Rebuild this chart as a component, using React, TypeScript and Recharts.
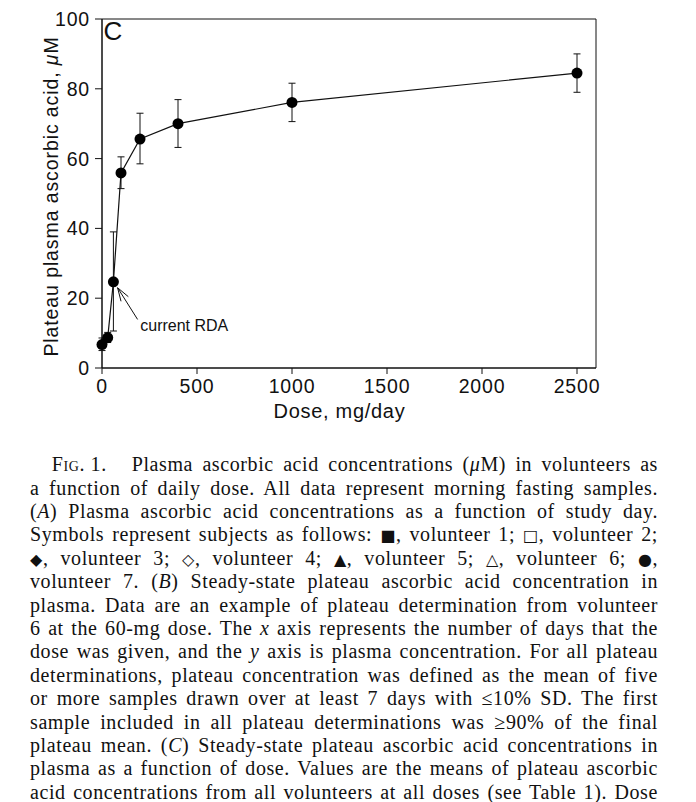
import React from 'react';
import {
  LineChart,
  Line,
  XAxis,
  YAxis,
  ErrorBar,
  ReferenceArea,
  ReferenceDot,
} from 'recharts';

// Fig. 1C: plateau plasma ascorbic acid vs dose (means with low/high error ends)
const doses = [0, 30, 60, 100, 200, 400, 1000, 2500];
const plateauMean = [6.7, 8.7, 24.7, 55.9, 65.6, 70.0, 76.1, 84.5];
const plateauLow = [5.0, 7.3, 10.6, 51.4, 58.5, 63.2, 70.6, 79.0];
const plateauHigh = [8.6, 10.2, 39.0, 60.5, 73.0, 76.9, 81.6, 90.0];

const xTicks = [0, 500, 1000, 1500, 2000, 2500];
const yTicks = [0, 20, 40, 60, 80, 100];

// where the "current RDA" arrow points (data coords)
const rdaArrowTip = { dose: 82, value: 23 };

const data = doses.map((dose, i) => ({
  dose,
  mean: plateauMean[i],
  err: [plateauMean[i] - plateauLow[i], plateauHigh[i] - plateauMean[i]],
}));

const SANS = '"Liberation Sans", Arial, Helvetica, sans-serif';
const SERIF = '"Liberation Serif", "Times New Roman", Times, serif';

function YLabel(props: any) {
  const { viewBox } = props;
  const x = viewBox.x + 58;
  const y = viewBox.y + viewBox.height / 2 + 3;
  return (
    <text
      x={x}
      y={y}
      transform={`rotate(-90 ${x} ${y})`}
      textAnchor="middle"
      fontSize={19.5}
      fill="#111"
      style={{ letterSpacing: '0.9px' }}
    >
      Plateau plasma ascorbic acid, <tspan fontStyle="italic">μ</tspan>M
    </text>
  );
}

function XLabel(props: any) {
  const { viewBox } = props;
  // centred on the 0..2500 tick range
  const x = viewBox.x + (viewBox.width * 1250) / 2600;
  return (
    <text
      x={x}
      y={viewBox.y + 50}
      textAnchor="middle"
      fontSize={20}
      fill="#111"
      style={{ letterSpacing: '0.7px' }}
    >
      Dose, mg/day
    </text>
  );
}

function PanelLetter(props: any) {
  return (
    <text x={props.cx + 1.5} y={props.cy + 21} fontSize={26} fill="#111" style={{ letterSpacing: 0 }}>
      C
    </text>
  );
}

function RdaArrow(props: any) {
  const { cx, cy } = props;
  const tail = { x: cx + 20, y: cy + 31.7 };
  const ang = Math.atan2(tail.y - cy, tail.x - cx);
  const head = 14;
  const spread = (18 * Math.PI) / 180;
  const b1 = { x: cx + head * Math.cos(ang + spread), y: cy + head * Math.sin(ang + spread) };
  const b2 = { x: cx + head * Math.cos(ang - spread), y: cy + head * Math.sin(ang - spread) };
  return (
    <g>
      <line x1={tail.x} y1={tail.y} x2={cx} y2={cy} stroke="#111" strokeWidth={1} />
      <polyline
        points={`${b1.x},${b1.y} ${cx},${cy} ${b2.x},${b2.y}`}
        fill="none"
        stroke="#111"
        strokeWidth={1}
      />
      <text x={cx + 22.7} y={cy + 43.4} fontSize={16} fill="#111" style={{ letterSpacing: 0 }}>
        current RDA
      </text>
    </g>
  );
}

// legend symbol + its comma kept together so justification doesn't split them
const sym = (s: string) => (
  <span style={{ display: 'inline-block' }}>
    <span style={{ fontFamily: '"DejaVu Sans", sans-serif', fontSize: '0.8em' }}>{s}</span>,
  </span>
);

const captionLines: React.ReactNode[] = [
  <>Plasma ascorbic acid concentrations (<i>μ</i>M) in volunteers as</>,
  <>a function of daily dose. All data represent morning fasting samples.</>,
  <>(<i>A</i>) Plasma ascorbic acid concentrations as a function of study day.</>,
  <>Symbols represent subjects as follows: {sym('■')} volunteer 1; {sym('□')} volunteer 2;</>,
  <>{sym('◆')} volunteer 3; {sym('◇')} volunteer 4; {sym('▲')} volunteer 5; {sym('△')} volunteer 6; {sym('●')}</>,
  <>volunteer 7. (<i>B</i>) Steady-state plateau ascorbic acid concentration in</>,
  <>plasma. Data are an example of plateau determination from volunteer</>,
  <>6 at the 60-mg dose. The <i>x</i> axis represents the number of days that the</>,
  <>dose was given, and the <i>y</i> axis is plasma concentration. For all plateau</>,
  <>determinations, plateau concentration was defined as the mean of five</>,
  <>or more samples drawn over at least 7 days with ≤10% SD. The first</>,
  <>sample included in all plateau determinations was ≥90% of the final</>,
  <>plateau mean. (<i>C</i>) Steady-state plateau ascorbic acid concentrations in</>,
  <>plasma as a function of dose. Values are the means of plateau ascorbic</>,
  <>acid concentrations from all volunteers at all doses (see Table 1). Dose</>,
];

const LINE_H = 23.4;

export default function App() {
  return (
    <div style={{ position: 'relative', width: 696, height: 802, overflow: 'hidden', background: '#fff' }}>
      <style>{'body{margin:0}'}</style>
      <LineChart
        width={696}
        height={430}
        data={data}
        margin={{ top: 19, right: 100, bottom: 12, left: 0 }}
        style={{ fontFamily: SANS, letterSpacing: '0.8px' }}
      >
        <XAxis
          dataKey="dose"
          type="number"
          domain={[0, 2600]}
          ticks={xTicks}
          height={50}
          tickSize={6}
          tickMargin={5}
          axisLine={{ stroke: '#111' }}
          tickLine={{ stroke: '#111' }}
          tick={{ fontSize: 19.5, fill: '#111' }}
          label={<XLabel />}
        />
        <YAxis
          type="number"
          domain={[0, 100]}
          ticks={yTicks}
          width={102}
          tickSize={7}
          tickMargin={5}
          axisLine={{ stroke: '#111' }}
          tickLine={{ stroke: '#111' }}
          tick={{ fontSize: 19.5, fill: '#111' }}
          label={<YLabel />}
        />
        <ReferenceArea x1={0} x2={2600} y1={0} y2={100} fill="none" stroke="#111" strokeWidth={1} />
        <Line
          type="linear"
          dataKey="mean"
          stroke="#111"
          strokeWidth={1.2}
          dot={{ r: 5.5, fill: '#000', stroke: '#000', strokeWidth: 0 }}
          activeDot={false}
          isAnimationActive={false}
        >
          <ErrorBar dataKey="err" width={3.5} stroke="#111" strokeWidth={1} direction="y" />
        </Line>
        <ReferenceDot x={0} y={100} r={0} shape={<PanelLetter />} />
        <ReferenceDot x={rdaArrowTip.dose} y={rdaArrowTip.value} r={0} shape={<RdaArrow />} />
      </LineChart>

      <div
        style={{
          position: 'absolute',
          top: 453.25,
          left: 30,
          width: 628,
          fontFamily: SERIF,
          fontSize: 20,
          letterSpacing: '0.6px',
          color: '#111',
        }}
      >
        {captionLines.map((line, i) => (
          <div
            key={i}
            style={{
              position: 'relative',
              height: LINE_H,
              lineHeight: `${LINE_H}px`,
              textAlign: 'justify',
              textAlignLast: 'justify',
              paddingLeft: i === 0 ? 101.7 : 0,
              whiteSpace: 'normal',
            }}
          >
            {i === 0 && (
              <span style={{ position: 'absolute', left: 21.7, top: 0 }}>
                <span style={{ fontVariant: 'small-caps' }}>Fig.</span> 1.
              </span>
            )}
            {line}
          </div>
        ))}
      </div>
    </div>
  );
}
